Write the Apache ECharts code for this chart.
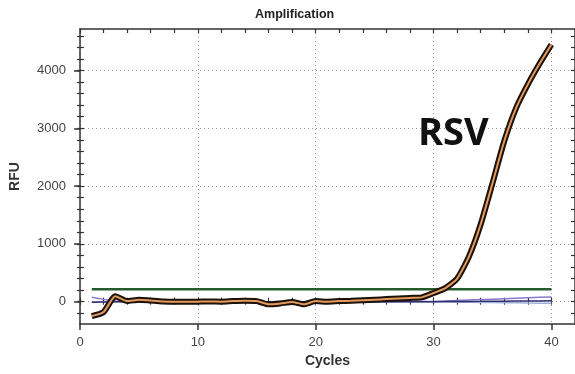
<!DOCTYPE html>
<html><head><meta charset="utf-8">
<script src="https://cdn.jsdelivr.net/npm/echarts@6/dist/echarts.min.js"></script>
<style>html,body{margin:0;padding:0;background:#fff}#c{width:575px;height:374px}</style>
</head><body><div id="c"></div>
<script>
// ---- data ----
const cycles = [1,2,3,4,5,6,7,8,9,10,11,12,13,14,15,16,17,18,19,20,21,22,23,24,25,26,27,28,29,30,31,32,33,34,35,36,37,38,39,40];
const rsv = [-250,-180,95,10,35,20,5,0,-3,0,5,0,10,15,10,-45,-30,-5,-45,10,0,10,15,25,35,45,55,65,75,150,235,400,780,1340,2050,2780,3350,3760,4120,4450];
const negA = [75,40,10,3,2,1,0,1,2,0,1,0,2,1,0,1,2,1,0,1,2,1,0,1,2,1,2,3,4,5,12,20,28,36,44,52,60,68,75,82];
const negB = [-8,-5,-2,0,1,0,-1,0,1,0,0,1,0,-1,0,1,0,0,1,0,-1,0,1,0,0,1,0,0,0,0,2,3,5,6,8,9,11,12,14,15];
const negC = [-5,-3,-1,0,0,-1,0,1,0,0,-1,0,0,1,0,0,-1,0,0,1,0,0,-1,0,0,0,-1,-1,-1,-2,-5,-8,-10,-13,-15,-18,-20,-23,-25,-28];
const threshold = 215;
const xLabelValues = [0,10,20,30,40];
const yLabelValues = [0,1000,2000,3000,4000];
const xMinorTicks = [0,2,4,6,8,10,12,14,16,18,20,22,24,26,28,30,32,34,36,38,40,42];
const yMinorTicks = [-200,0,200,400,600,800,1000,1200,1400,1600,1800,2000,2200,2400,2600,2800,3000,3200,3400,3600,3800,4000,4200,4400,4600];
const chartTitle = 'Amplification';
const xName = 'Cycles';
const yName = 'RFU';
const seriesLabel = 'RSV';

// ---- chart ----
const X_MIN = 0, X_MAX = 42, Y_MIN = -386, Y_MAX = 4718;
const AX = '#333';
const FONT = 'Liberation Sans, Arial, sans-serif';
const hidden = {show:false};
function xa(o){ return Object.assign({type:'value', min:X_MIN, max:X_MAX, interval:10, axisLine:{show:false}, axisTick:hidden, axisLabel:hidden, splitLine:hidden}, o); }
function ya(o){ return Object.assign({type:'value', min:Y_MIN, max:Y_MAX, splitNumber:5, axisLine:{show:false}, axisTick:hidden, axisLabel:hidden, splitLine:hidden}, o); }
const pts = arr => cycles.map((c,i)=>[c, arr[i]]);
const chart = echarts.init(document.getElementById('c'), null, {renderer:'canvas'});
chart.setOption({
  animation:false,
  backgroundColor:'#fff',
  title:{text:chartTitle, left:255, top:8, padding:0, textStyle:{fontSize:12.5, fontWeight:'bold', color:'#222', fontFamily:FONT}},
  grid:{left:76, right:-1, top:29, bottom:50, containLabel:false},
  xAxis:[
    xa({position:'bottom', axisLine:{show:true, onZero:false, lineStyle:{color:AX, width:1.5}},
        axisTick:{show:true, customValues:xLabelValues, length:6, lineStyle:{color:AX, width:1.5}},
        axisLabel:{show:true, customValues:xLabelValues, fontSize:13, color:'#444', margin:12, fontFamily:FONT, formatter:v=>String(v)},
        splitLine:{show:true, lineStyle:{color:'#9a9a9a', type:[1,3], width:1}},
        name:xName, nameLocation:'middle', nameGap:30, nameTextStyle:{fontSize:14, fontWeight:'bold', color:'#333', fontFamily:FONT}}),
    xa({position:'bottom', axisTick:{show:true, inside:true, customValues:xMinorTicks, length:4, lineStyle:{color:AX, width:1.2}}}),
    xa({position:'bottom', axisTick:{show:true, inside:false, customValues:xMinorTicks, length:3, lineStyle:{color:AX, width:1.2}}}),
    xa({position:'top', axisLine:{show:true, onZero:false, lineStyle:{color:AX, width:1.5}},
        axisTick:{show:true, inside:true, customValues:xMinorTicks, length:4, lineStyle:{color:AX, width:1.2}}})
  ],
  yAxis:[
    ya({position:'left', axisLine:{show:true, onZero:false, lineStyle:{color:AX, width:1.5}},
        axisTick:{show:true, customValues:yLabelValues, length:6, lineStyle:{color:AX, width:1.5}},
        axisLabel:{show:true, customValues:yLabelValues, fontSize:13, color:'#444', margin:14, fontFamily:FONT, formatter:v=>String(v)},
        splitLine:{show:true, lineStyle:{color:'#9a9a9a', type:[1,3], width:1}},
        name:yName, nameLocation:'middle', nameRotate:90, nameGap:58, nameTextStyle:{fontSize:14, fontWeight:'bold', color:'#333', fontFamily:FONT}}),
    ya({position:'left', axisTick:{show:true, inside:true, customValues:yMinorTicks, length:4, lineStyle:{color:AX, width:1.2}}}),
    ya({position:'left', axisTick:{show:true, inside:false, customValues:yMinorTicks, length:3, lineStyle:{color:AX, width:1.2}}}),
    ya({position:'right', axisLine:{show:true, onZero:false, lineStyle:{color:AX, width:1.5}},
        axisTick:{show:true, inside:true, customValues:yMinorTicks, length:4, lineStyle:{color:AX, width:1.2}}})
  ],
  graphic:[{type:'text', x:418, y:134, z:100, style:{text:seriesLabel, textVerticalAlign:'middle', font:'bold 38px "Open Sans", "Noto Sans", sans-serif', fill:'#111'}}],
  series:[
    {type:'line', name:'negC', data:pts(negC), symbol:'none', lineStyle:{color:'#9db0da', width:1.5}, z:2},
    {type:'line', name:'negA', data:pts(negA), symbol:'none', lineStyle:{color:'#8a78cc', width:1.5}, z:2},
    {type:'line', name:'negB', data:pts(negB), symbol:'none', lineStyle:{color:'#2e2f70', width:1.5}, z:2},
    {type:'line', name:'threshold', data:cycles.map(c=>[c, threshold]), symbol:'none', lineStyle:{color:'#245c2c', width:2.5}, z:3},
    {type:'line', name:'rsvOutline', data:pts(rsv), symbol:'none', smooth:0.2, lineStyle:{color:'#1c120a', width:6}, z:4},
    {type:'line', name:'rsv', data:pts(rsv), symbol:'none', smooth:0.2, lineStyle:{color:'#e39a5e', width:2}, z:5}
  ]
});
</script>
</body></html>
